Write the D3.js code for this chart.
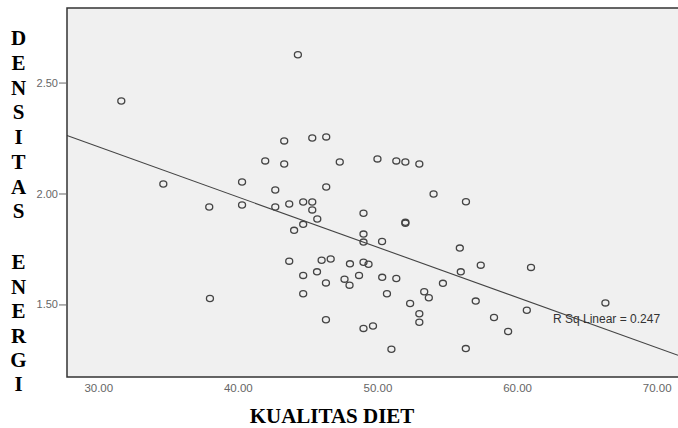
<!DOCTYPE html>
<html>
<head>
<meta charset="utf-8">
<script src="https://cdn.jsdelivr.net/npm/d3@7"></script>
<style>
  body { margin: 0; background: #fff; }
  svg { display: block; }
</style>
</head>
<body>
<svg width="678" height="428"></svg>
<script>
// kualitas diet (x) vs densitas energi (y)
var kualitas = [31.65, 44.30, 34.66, 37.95, 40.30, 40.30, 41.96, 43.32, 43.32, 42.68,
  42.68, 43.68, 44.68, 45.33, 45.33, 45.33, 46.33, 46.33, 47.30, 45.69,
  44.68, 44.03, 43.68, 46.00, 46.65, 44.68, 45.67, 38.00, 46.31, 44.68,
  46.31, 50.00, 51.35, 52.00, 53.00, 54.02, 49.00, 52.00, 52.00, 49.00,
  49.00, 50.33, 55.90, 48.03, 49.00, 49.36, 47.64, 48.00, 48.68, 50.34,
  51.35, 50.68, 52.34, 53.35, 53.68, 54.69, 53.00, 53.00, 49.00, 49.68,
  51.00, 55.97, 57.40, 61.00, 57.04, 58.35, 60.70, 59.36, 66.33, 56.33, 56.34];
var densitas = [2.417, 2.625, 2.043, 1.939, 2.052, 1.948, 2.147, 2.237, 2.133, 2.016,
  1.939, 1.953, 1.962, 1.962, 1.926, 2.250, 2.255, 2.029, 2.142, 1.885,
  1.861, 1.834, 1.695, 1.699, 1.705, 1.631, 1.647, 1.527, 1.597, 1.548,
  1.431, 2.156, 2.147, 2.142, 2.133, 1.998, 1.911, 1.870, 1.866, 1.817,
  1.781, 1.784, 1.754, 1.683, 1.690, 1.681, 1.614, 1.587, 1.631, 1.622,
  1.617, 1.548, 1.504, 1.557, 1.530, 1.595, 1.458, 1.420, 1.392, 1.403,
  1.298, 1.647, 1.677, 1.667, 1.515, 1.441, 1.474, 1.378, 1.507, 1.301, 1.963];
var xTicks = [30, 40, 50, 60, 70];
var yTicks = [1.5, 2.0, 2.5];
// fit line
var intercept = 2.889, slope = -0.02262;
var rSq = "R Sq Linear = 0.247";
var yTitle1 = "DENSITAS", yTitle2 = "ENERGI";
var xTitle = "KUALITAS DIET";

function graficar() {
  var svg = d3.select("svg"),
      m = {left: 67, top: 8, right: 678, bottom: 377};

  var x = d3.scaleLinear().domain([27.76, 71.53]).range([m.left, m.right]);
  var y = d3.scaleLinear().domain([1.173, 2.836]).range([m.bottom, m.top]);

  svg.append("rect")
      .attr("x", m.left).attr("y", m.top)
      .attr("width", m.right - m.left).attr("height", m.bottom - m.top)
      .attr("fill", "#f0f0f0");

  var pts = d3.zip(kualitas, densitas);

  // regression line
  var plot = svg.append("g");
  var x0 = x.domain()[0], x1 = x.domain()[1];
  plot.append("line")
      .attr("x1", x(x0)).attr("y1", y(intercept + slope * x0))
      .attr("x2", x(x1)).attr("y2", y(intercept + slope * x1))
      .attr("stroke", "#444").attr("stroke-width", 1.1);

  plot.selectAll("ellipse")
      .data(pts)
      .enter().append("ellipse")
        .attr("cx", function(d) { return x(d[0]); })
        .attr("cy", function(d) { return y(d[1]); })
        .attr("rx", 3.5)
        .attr("ry", 3.1)
        .attr("fill", "none")
        .attr("stroke", "#444")
        .attr("stroke-width", 1.3);

  plot.append("text")
      .attr("x", 553).attr("y", y(intercept + slope * 64) + 1)
      .attr("dy", "0.35em")
      .style("font", "12px 'Liberation Sans', Arial, sans-serif")
      .attr("fill", "#333")
      .text(rSq);

  // frame
  svg.append("path")
      .attr("d", "M" + m.right + "," + m.top + "H" + m.left + "V" + m.bottom + "H" + m.right)
      .attr("fill", "none").attr("stroke", "#333").attr("stroke-width", 1.5);

  var yAxis = svg.append("g")
      .attr("transform", "translate(" + m.left + ",0)")
      .call(d3.axisLeft(y).tickValues(yTicks).tickFormat(d3.format(".2f")).tickSize(8).tickPadding(1));
  yAxis.select(".domain").remove();
  yAxis.selectAll("line").attr("stroke", "#666");
  yAxis.selectAll("text").attr("fill", "#666")
      .style("font", "11px 'Liberation Sans', Arial, sans-serif");

  var xAxis = svg.append("g")
      .attr("transform", "translate(0," + m.bottom + ")")
      .call(d3.axisBottom(x).tickValues(xTicks).tickFormat(d3.format(".2f")).tickSize(0).tickPadding(7));
  xAxis.select(".domain").remove();
  xAxis.selectAll("text").attr("fill", "#666")
      .style("font", "11.5px 'Liberation Sans', Arial, sans-serif");

  // titles
  var titleFont = "bold 21px 'Liberation Serif', 'Times New Roman', serif";
  var letters = yTitle1.split("").map(function(c, i) { return {c: c, y: 38 + 24.7 * i}; })
    .concat(yTitle2.split("").map(function(c, i) { return {c: c, y: 262 + 24.4 * i}; }));
  svg.append("g").selectAll("text")
      .data(letters)
      .enter().append("text")
        .attr("x", 18.5).attr("y", function(d) { return d.y; })
        .attr("dy", "0.35em")
        .attr("text-anchor", "middle")
        .style("font", titleFont)
        .text(function(d) { return d.c; });

  svg.append("text")
      .attr("x", 332).attr("y", 423)
      .attr("text-anchor", "middle")
      .style("font", titleFont)
      .text(xTitle);
}
graficar();
</script>
</body>
</html>
